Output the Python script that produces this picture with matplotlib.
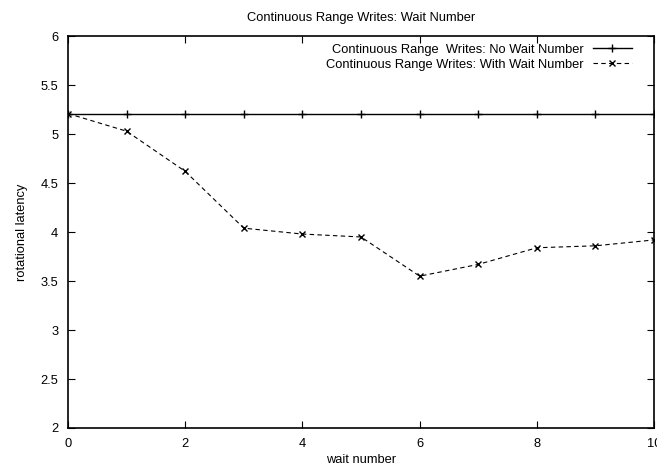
import matplotlib
matplotlib.use("Agg")
import matplotlib.pyplot as plt

plt.rcParams['font.family'] = ['Liberation Sans', 'DejaVu Sans']

wait_number = [0, 1, 2, 3, 4, 5, 6, 7, 8, 9, 10]
no_wait = [5.21, 5.21, 5.21, 5.21, 5.21, 5.21, 5.21, 5.21, 5.21, 5.21, 5.21]
with_wait = [5.21, 5.03, 4.62, 4.04, 3.98, 3.95, 3.55, 3.67, 3.84, 3.86, 3.92]

fs = 9.3

fig = plt.figure(figsize=(6.57, 4.70), dpi=100)
ax = fig.add_axes([0.1035, 0.0894, 0.892, 0.8336])

ax.plot(wait_number, no_wait, color='black', linestyle='-', linewidth=1,
        marker='+', markersize=6, label='Continuous Range  Writes: No Wait Number')
ax.plot(wait_number, with_wait, color='black', linestyle=(0, (4, 3)), linewidth=0.8,
        marker='x', markersize=5, label='Continuous Range Writes: With Wait Number')

ax.set_xlim(0, 10)
ax.set_ylim(2, 6)
ax.set_xticks([0, 2, 4, 6, 8, 10])
ax.set_yticks([2, 2.5, 3, 3.5, 4, 4.5, 5, 5.5, 6])
ax.set_yticklabels(['2', '2.5', '3', '3.5', '4', '4.5', '5', '5.5', '6'])
ax.tick_params(direction='in', top=True, right=True, labelsize=fs, length=5, pad=7)
for s in ax.spines.values():
    s.set_linewidth(1.2)

ax.set_xlabel('wait number', fontsize=fs, labelpad=3)
ax.set_ylabel('rotational latency', fontsize=fs, labelpad=9)
ax.set_title('Continuous Range Writes: Wait Number', fontsize=fs, pad=11)

ax.legend(loc='upper right', frameon=False, fontsize=fs, markerfirst=False,
          handlelength=3.0, labelspacing=0.2, borderaxespad=0.3, borderpad=0.3,
          handletextpad=0.7, bbox_to_anchor=(0.975, 1.0))

fig.savefig('out.png', dpi=100)
